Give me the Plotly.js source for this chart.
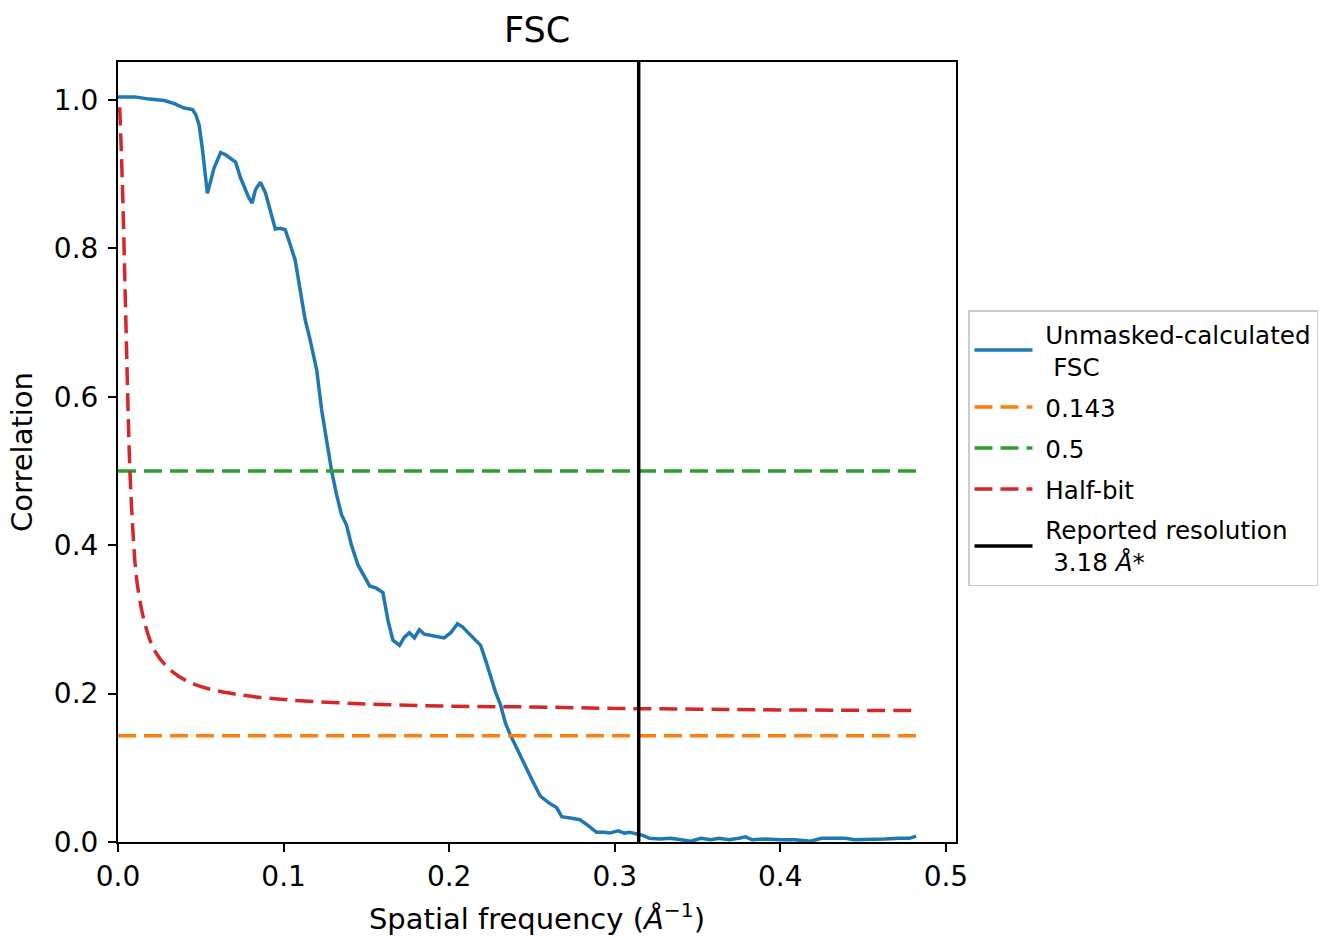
<!DOCTYPE html>
<html>
<head>
<meta charset="utf-8">
<script src="https://cdn.plot.ly/plotly-3.0.1.min.js"></script>
<style>html,body{margin:0;padding:0;background:#fff;}#chart{width:1320px;height:939px;}</style>
</head>
<body>
<div id="chart"></div>
<script>
// Unmasked-calculated FSC curve (spatial frequency in 1/Å, correlation)
const fscFreq = [0.000,0.010,0.019,0.028,0.034,0.040,0.045,0.047,0.049,0.051,0.054,0.058,0.062,0.065,0.071,0.074,0.079,0.081,0.083,0.086,0.089,0.092,0.095,0.098,0.101,0.104,0.107,0.110,0.113,0.116,0.120,0.123,0.126,0.129,0.132,0.135,0.138,0.141,0.145,0.149,0.152,0.156,0.160,0.163,0.166,0.170,0.173,0.176,0.179,0.182,0.185,0.190,0.195,0.197,0.201,0.205,0.208,0.213,0.216,0.219,0.222,0.225,0.228,0.231,0.234,0.237,0.242,0.246,0.250,0.255,0.260,0.265,0.268,0.274,0.279,0.284,0.289,0.294,0.297,0.302,0.306,0.309,0.313,0.317,0.321,0.327,0.334,0.340,0.346,0.352,0.358,0.363,0.369,0.375,0.379,0.383,0.391,0.400,0.409,0.418,0.425,0.433,0.439,0.445,0.454,0.463,0.472,0.478,0.482];
const fscValues = [1.004,1.004,1.001,0.999,0.995,0.989,0.987,0.980,0.966,0.933,0.874,0.908,0.929,0.926,0.916,0.895,0.868,0.861,0.879,0.889,0.875,0.852,0.826,0.827,0.825,0.805,0.784,0.744,0.704,0.677,0.636,0.582,0.542,0.500,0.468,0.441,0.427,0.400,0.373,0.357,0.345,0.342,0.336,0.299,0.272,0.265,0.276,0.282,0.275,0.286,0.280,0.278,0.276,0.275,0.282,0.294,0.290,0.278,0.271,0.265,0.245,0.222,0.202,0.185,0.160,0.144,0.121,0.100,0.084,0.062,0.053,0.046,0.034,0.032,0.030,0.022,0.013,0.013,0.012,0.015,0.012,0.013,0.011,0.009,0.005,0.004,0.005,0.003,0.001,0.005,0.003,0.005,0.003,0.005,0.007,0.003,0.004,0.003,0.003,0.001,0.005,0.005,0.005,0.003,0.003,0.004,0.005,0.005,0.008];

// Half-bit threshold curve
const halfbitFreq = [0.001,0.002,0.003,0.004,0.005,0.006,0.0072,0.009,0.0115,0.0165,0.0226,0.0326,0.0467,0.069,0.100,0.150,0.200,0.250,0.300,0.350,0.400,0.482];
const halfbitValues = [0.99,0.93,0.86,0.77,0.68,0.59,0.50,0.42,0.35,0.292,0.256,0.230,0.212,0.200,0.192,0.186,0.183,0.182,0.180,0.179,0.178,0.177];

// Fixed thresholds and reported resolution
const thresholdValues = [0.143, 0.5];
const reportedResolution = 3.18; // Å

const NB = "\u00a0";
const seriesNames = ["Unmasked-calculated<br>" + NB + "FSC", "0.143", "0.5", "Half-bit", "Reported resolution<br>" + NB + reportedResolution.toFixed(2) + " <i>Å</i>*"];

const xEnd = fscFreq[fscFreq.length - 1];
const resFreq = 1 / reportedResolution;
const yTop = 1.051;

const FONT = "DejaVu Sans, sans-serif";
const dash = "18px,8px";

const label = (s) => s.split("<br>").map(p => NB + p).join("<br>");

const traces = [
  {x: fscFreq, y: fscValues, mode: "lines", name: label(seriesNames[0]), legendgroup: "a", line: {color: "#1f77b4", width: 3.5}},
  {x: [0, xEnd], y: [thresholdValues[0], thresholdValues[0]], mode: "lines", name: label(seriesNames[1]), legendgroup: "b", line: {color: "#ff7f0e", width: 3.5, dash: dash}},
  {x: [0, xEnd], y: [thresholdValues[1], thresholdValues[1]], mode: "lines", name: label(seriesNames[2]), legendgroup: "c", line: {color: "#2ca02c", width: 3.5, dash: dash}},
  {x: halfbitFreq, y: halfbitValues, mode: "lines", name: label(seriesNames[3]), legendgroup: "d", line: {color: "#d62728", width: 3.5, dash: dash, shape: "spline"}},
  {x: [resFreq, resFreq], y: [0, yTop], mode: "lines", name: label(seriesNames[4]), legendgroup: "e", line: {color: "#000000", width: 3.5}}
];

const layout = {
  width: 1320, height: 939,
  paper_bgcolor: "#ffffff", plot_bgcolor: "#ffffff",
  font: {family: FONT, size: 24, color: "#000"},
  margin: {l: 118, r: 364, t: 62, b: 97, pad: 0, autoexpand: false},
  title: {text: "FSC", font: {family: FONT, size: 35, color: "#000"}, x: 0.5, xref: "paper", xanchor: "center", y: 1 - 30/939, yref: "container", yanchor: "middle"},
  xaxis: {
    range: [0, xEnd * 1.05], tickvals: [0, 0.1, 0.2, 0.3, 0.4, 0.5], ticktext: ["0.0","0.1","0.2","0.3","0.4","0.5"],
    showgrid: false, zeroline: false, showline: true, mirror: true, linecolor: "#000", linewidth: 2,
    ticks: "outside", ticklen: 8, tickwidth: 2, tickcolor: "#000", tickfont: {size: 28},
    title: {text: "Spatial frequency (<i>Å</i><sup>−1</sup>)", font: {size: 29}, standoff: 17}
  },
  yaxis: {
    range: [0, yTop], tickvals: [0, 0.2, 0.4, 0.6, 0.8, 1.0], ticktext: ["0.0","0.2","0.4","0.6","0.8","1.0"],
    showgrid: false, zeroline: false, showline: true, mirror: true, linecolor: "#000", linewidth: 2,
    ticks: "outside", ticklen: 8, tickwidth: 2, tickcolor: "#000", tickfont: {size: 28}, ticklabelstandoff: 4,
    title: {text: "Correlation", font: {size: 29}, standoff: 13}
  },
  showlegend: true,
  legend: {
    x: (968 - 118) / 838, xanchor: "left", y: (842 - 310) / 780, yanchor: "top",
    bgcolor: "#ffffff", bordercolor: "#cccccc", borderwidth: 1.5,
    font: {family: FONT, size: 24.6, color: "#000"}, itemwidth: 58, traceorder: "grouped", tracegroupgap: 6
  }
};

Plotly.newPlot("chart", traces, layout, {displayModeBar: false, staticPlot: true});
</script>
</body>
</html>
